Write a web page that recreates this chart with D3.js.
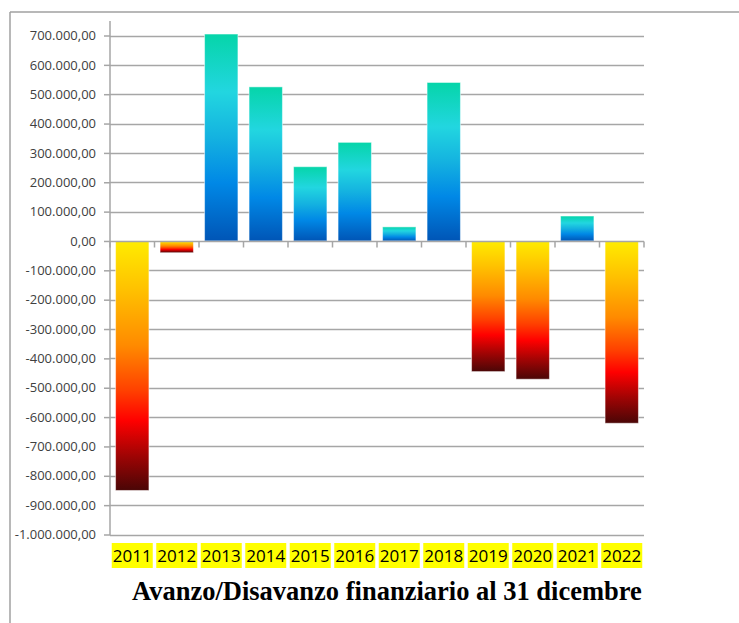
<!DOCTYPE html>
<html>
<head>
<meta charset="utf-8">
<script src="https://cdn.jsdelivr.net/npm/d3@7/dist/d3.min.js"></script>
<style>
  html, body { margin: 0; padding: 0; background: #fff; }
  svg { display: block; }
</style>
</head>
<body>
<svg id="chart" width="739" height="623"></svg>
<script>
const years = ["2011","2012","2013","2014","2015","2016","2017","2018","2019","2020","2021","2022"];
const values = [-850000, -40000, 705000, 525000, 253000, 336000, 48000, 540000, -445000, -471000, 85000, -621000];
const yTicks = [700000, 600000, 500000, 400000, 300000, 200000, 100000, 0, -100000, -200000, -300000, -400000, -500000, -600000, -700000, -800000, -900000, -1000000];
const title = "Avanzo/Disavanzo finanziario al 31 dicembre";

const svg = d3.select("#chart");
const left = 110, right = 644;

const x = d3.scaleBand().domain(years).range([left, right]).paddingInner(0.25).paddingOuter(0.125);
const y = d3.scaleLinear().domain([-1000000, 700000]).range([534.5, 35.5]);

const fmt = v => {
  const s = Math.abs(v).toFixed(0).replace(/\B(?=(\d{3})+(?!\d))/g, ".");
  return (v < 0 ? "-" : "") + s + ",00";
};

// gradients
const defs = svg.append("defs");
const gPos = defs.append("linearGradient").attr("id", "gPos").attr("x1", 0).attr("y1", 0).attr("x2", 0).attr("y2", 1);
[[0, "#05d5a9"], [0.28, "#22d6e0"], [0.5, "#14b2e0"], [0.72, "#0088e6"], [1, "#0055b6"]]
  .forEach(([o, c]) => gPos.append("stop").attr("offset", o).attr("stop-color", c));
const gNeg = defs.append("linearGradient").attr("id", "gNeg").attr("x1", 0).attr("y1", 0).attr("x2", 0).attr("y2", 1);
[[0, "#ffec00"], [0.2, "#ffc000"], [0.42, "#ff8a00"], [0.6, "#ff4000"], [0.72, "#ff0000"], [0.86, "#a00404"], [1, "#4a0606"]]
  .forEach(([o, c]) => gNeg.append("stop").attr("offset", o).attr("stop-color", c));

// frame
svg.append("line").attr("x1", 10).attr("x2", 739).attr("y1", 12).attr("y2", 12).attr("stroke", "#a0a0a0").attr("stroke-width", 1.5);
svg.append("line").attr("x1", 10).attr("x2", 10).attr("y1", 12).attr("y2", 623).attr("stroke", "#a0a0a0").attr("stroke-width", 1.5);

// gridlines
svg.append("g").selectAll("line").data(yTicks.filter(d => d !== 0)).join("line")
  .attr("x1", left).attr("x2", right)
  .attr("y1", d => Math.round(y(d)) + 0.5).attr("y2", d => Math.round(y(d)) + 0.5)
  .attr("stroke", "#a6a6a6").attr("stroke-width", 1.5);

// y axis
const yAxis = d3.axisLeft(y).tickValues(yTicks).tickFormat(fmt).tickSize(6).tickPadding(8);
const ya = svg.append("g").attr("transform", `translate(${left},0)`).call(yAxis);
ya.select(".domain").remove();
ya.selectAll(".tick line").attr("stroke", "#a6a6a6").attr("stroke-width", 1.5);
ya.selectAll(".tick text").attr("fill", "#404040").style("font-family", "'Open Sans', sans-serif").style("font-size", "13px");
svg.append("line").attr("x1", left).attr("x2", left).attr("y1", 21).attr("y2", 535)
  .attr("stroke", "#a6a6a6").attr("stroke-width", 1.5);

// bars
svg.append("g").selectAll("rect").data(years).join("rect")
  .attr("x", (d) => x(d))
  .attr("width", x.bandwidth())
  .attr("y", (d, i) => y(Math.max(0, values[i])))
  .attr("height", (d, i) => Math.abs(y(values[i]) - y(0)))
  .attr("fill", (d, i) => values[i] >= 0 ? "url(#gPos)" : "url(#gNeg)")
  .attr("stroke", "#ffffff").attr("stroke-opacity", 0.5).attr("stroke-width", 1);

// zero axis with ticks at category boundaries
const z = Math.round(y(0)) + 0.5;
svg.append("line").attr("x1", left).attr("x2", right).attr("y1", z).attr("y2", z)
  .attr("stroke", "#a6a6a6").attr("stroke-width", 1.5);
const bounds = d3.range(years.length + 1).map(i => left + i * x.step());
svg.append("g").selectAll("line").data(bounds).join("line")
  .attr("x1", d => d).attr("x2", d => d).attr("y1", z).attr("y2", z + 6)
  .attr("stroke", "#a6a6a6").attr("stroke-width", 1.5);

// x labels with yellow highlight
const xl = svg.append("g").selectAll("g").data(years).join("g")
  .attr("transform", d => `translate(${x(d) + x.bandwidth() / 2},0)`);
xl.append("rect").attr("x", -20.5).attr("width", 41).attr("y", 543).attr("height", 25).attr("fill", "#ffff00");
xl.append("text").attr("x", 0).attr("y", 561.5).attr("text-anchor", "middle")
  .style("font-family", "'Open Sans', sans-serif").style("font-size", "17px").attr("fill", "#000")
  .text(d => d);

// title
svg.append("text").attr("x", 132).attr("y", 600)
  .style("font-family", "'Liberation Serif', 'Times New Roman', serif").style("font-weight", "bold").style("font-size", "26.5px")
  .attr("fill", "#000").text(title);
</script>
</body>
</html>
